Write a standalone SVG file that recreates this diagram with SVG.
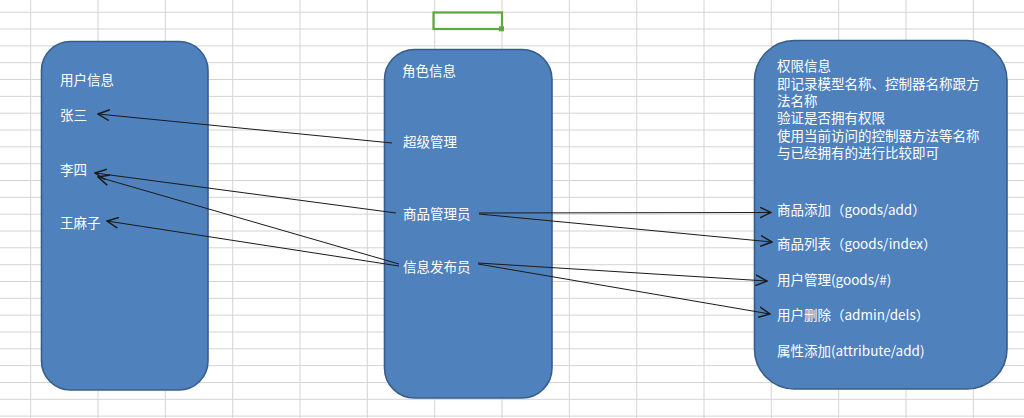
<svg xmlns="http://www.w3.org/2000/svg" width="1024" height="418" viewBox="0 0 1024 418">
<defs>
<style>
.grid line{stroke:#d4d4d4;stroke-width:1}
.box{fill:#4f81bd;stroke:#385d8a;stroke-width:1.6}
.t{fill:#ffffff;font-family:"Noto Sans CJK SC","Noto Sans",sans-serif;font-size:13.5px}
.c{stroke:#1a1a1a;stroke-width:1;fill:none;marker-end:url(#ah)}
</style>
<marker id="ah" markerUnits="userSpaceOnUse" markerWidth="12" markerHeight="12" viewBox="0 0 10 10" refX="9.5" refY="5" orient="auto">
<path d="M0,0.5 L9.5,5 L0,9.5" fill="none" stroke="#1a1a1a" stroke-width="1.2"/>
</marker>
</defs>
<rect width="1024" height="418" fill="#ffffff"/>
<g class="grid">
<line x1="30.7" y1="0" x2="30.7" y2="418"/>
<line x1="98" y1="0" x2="98" y2="418"/>
<line x1="165.3" y1="0" x2="165.3" y2="418"/>
<line x1="232.7" y1="0" x2="232.7" y2="418"/>
<line x1="300" y1="0" x2="300" y2="418"/>
<line x1="367.3" y1="0" x2="367.3" y2="418"/>
<line x1="434.7" y1="0" x2="434.7" y2="418"/>
<line x1="502" y1="0" x2="502" y2="418"/>
<line x1="569.3" y1="0" x2="569.3" y2="418"/>
<line x1="636.7" y1="0" x2="636.7" y2="418"/>
<line x1="704" y1="0" x2="704" y2="418"/>
<line x1="771.3" y1="0" x2="771.3" y2="418"/>
<line x1="838.7" y1="0" x2="838.7" y2="418"/>
<line x1="906" y1="0" x2="906" y2="418"/>
<line x1="973.3" y1="0" x2="973.3" y2="418"/>
<line x1="0" y1="12.2" x2="1024" y2="12.2"/>
<line x1="0" y1="29" x2="1024" y2="29"/>
<line x1="0" y1="45.9" x2="1024" y2="45.9"/>
<line x1="0" y1="62.7" x2="1024" y2="62.7"/>
<line x1="0" y1="79.5" x2="1024" y2="79.5"/>
<line x1="0" y1="96.4" x2="1024" y2="96.4"/>
<line x1="0" y1="113.2" x2="1024" y2="113.2"/>
<line x1="0" y1="130" x2="1024" y2="130"/>
<line x1="0" y1="146.8" x2="1024" y2="146.8"/>
<line x1="0" y1="163.7" x2="1024" y2="163.7"/>
<line x1="0" y1="180.5" x2="1024" y2="180.5"/>
<line x1="0" y1="197.3" x2="1024" y2="197.3"/>
<line x1="0" y1="214.2" x2="1024" y2="214.2"/>
<line x1="0" y1="231" x2="1024" y2="231"/>
<line x1="0" y1="247.8" x2="1024" y2="247.8"/>
<line x1="0" y1="264.7" x2="1024" y2="264.7"/>
<line x1="0" y1="281.5" x2="1024" y2="281.5"/>
<line x1="0" y1="298.3" x2="1024" y2="298.3"/>
<line x1="0" y1="315.1" x2="1024" y2="315.1"/>
<line x1="0" y1="332" x2="1024" y2="332"/>
<line x1="0" y1="348.8" x2="1024" y2="348.8"/>
<line x1="0" y1="365.6" x2="1024" y2="365.6"/>
<line x1="0" y1="382.5" x2="1024" y2="382.5"/>
<line x1="0" y1="399.3" x2="1024" y2="399.3"/>
<line x1="0" y1="416.1" x2="1024" y2="416.1"/>
</g>
<g id="selected-cell">
<rect x="433.5" y="12.5" width="68.5" height="16.5" fill="none" stroke="#5fa83c" stroke-width="2.2"/>
<rect x="499" y="26.3" width="5" height="5" fill="#5fa83c"/>
</g>
<g id="user-info">
<rect class="box" x="41.5" y="41.5" width="166.5" height="348.5" rx="29" ry="29"/>
<text class="t" x="60" y="85">用户信息</text>
<text class="t" x="60" y="120">张三</text>
<text class="t" x="60" y="175">李四</text>
<text class="t" x="60" y="228">王麻子</text>
</g>
<g id="role-info">
<rect class="box" x="384.5" y="49.5" width="167.5" height="348.5" rx="30" ry="30"/>
<text class="t" x="402" y="76">角色信息</text>
<text class="t" x="403" y="147">超级管理</text>
<text class="t" x="403" y="219">商品管理员</text>
<text class="t" x="403" y="272">信息发布员</text>
</g>
<g id="permission-info">
<rect class="box" x="754.5" y="40.5" width="252.5" height="348.5" rx="40" ry="40"/>
<text class="t" x="777" y="71">权限信息</text>
<text class="t" x="777" y="88.5">即记录模型名称、控制器名称跟方</text>
<text class="t" x="777" y="106">法名称</text>
<text class="t" x="777" y="123.3">验证是否拥有权限</text>
<text class="t" x="777" y="140.8">使用当前访问的控制器方法等名称</text>
<text class="t" x="777" y="158.2">与已经拥有的进行比较即可</text>
<text class="t" x="777" y="215">商品添加（goods/add）</text>
<text class="t" x="777" y="249">商品列表（goods/index）</text>
<text class="t" x="777" y="285">用户管理(goods/#)</text>
<text class="t" x="777" y="320">用户删除（admin/dels）</text>
<text class="t" x="777" y="356">属性添加(attribute/add)</text>
</g>
<g id="connectors">
<line class="c" x1="392" y1="143" x2="98" y2="114"/>
<line class="c" x1="396" y1="213" x2="95" y2="173"/>
<line class="c" x1="399" y1="264" x2="98" y2="177"/>
<line class="c" x1="399" y1="266" x2="107" y2="221"/>
<line class="c" x1="479" y1="213" x2="771" y2="212.5"/>
<line class="c" x1="479" y1="214" x2="772" y2="242"/>
<line class="c" x1="478" y1="263" x2="767" y2="281"/>
<line class="c" x1="478" y1="264" x2="770" y2="314"/>
</g>
</svg>
